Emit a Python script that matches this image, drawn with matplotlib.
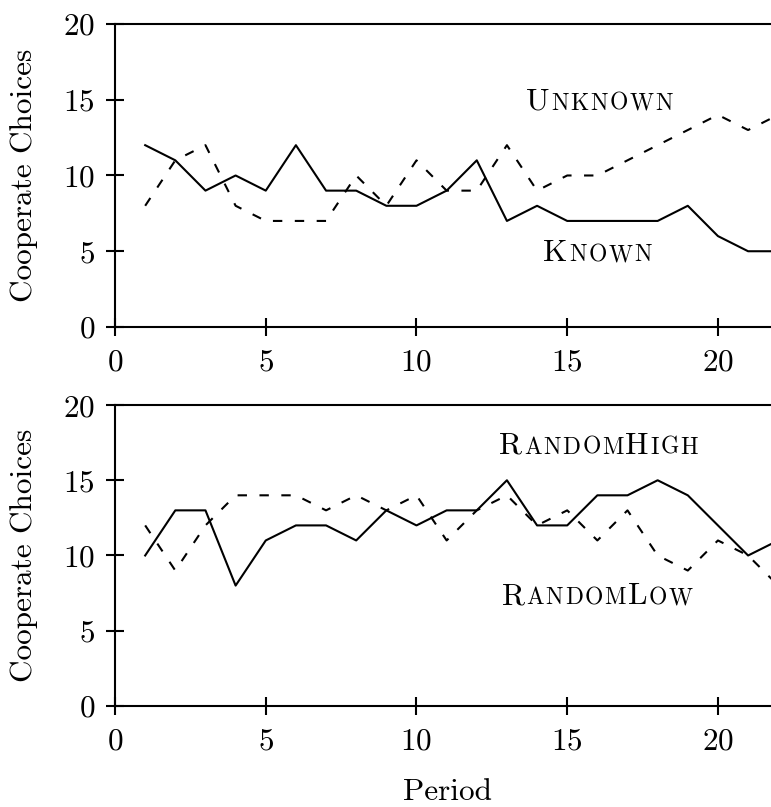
import matplotlib
matplotlib.use("Agg")
import matplotlib.pyplot as plt
from matplotlib.offsetbox import TextArea, HPacker, AnnotationBbox

plt.rcParams["font.family"] = "cmr10"
plt.rcParams["axes.formatter.use_mathtext"] = True
plt.rcParams["mathtext.fontset"] = "cm"

period = list(range(1, 23))

known = [12, 11, 9, 10, 9, 12, 9, 9, 8, 8, 9, 11, 7, 8, 7, 7, 7, 7, 8, 6, 5, 5]
unknown = [8, 11, 12, 8, 7, 7, 7, 10, 8, 11, 9, 9, 12, 9, 10, 10, 11, 12, 13, 14, 13, 14]
random_high = [10, 13, 13, 8, 11, 12, 12, 11, 13, 12, 13, 13, 15, 12, 12, 14, 14, 15, 14, 12, 10, 11]
random_low = [12, 9, 12, 14, 14, 14, 13, 14, 13, 14, 11, 13, 14, 12, 13, 11, 13, 10, 9, 11, 10, 8]

xticks = [0, 5, 10, 15, 20]
yticks = [0, 5, 10, 15, 20]

FS = 22.5
LW = 1.5


def smallcaps(ax, parts, xy):
    # parts: list of (text, is_capital); fake small caps letter by letter
    boxes = []
    for txt, big in parts:
        size = FS if big else FS * 0.75
        for ch in txt:
            boxes.append(TextArea(ch, textprops=dict(fontsize=size, family="cmr10")))
    pack = HPacker(children=boxes, align="baseline", pad=0, sep=1.2)
    ab = AnnotationBbox(pack, xy, xycoords="data", frameon=False,
                        box_alignment=(0.5, 0.5), pad=0)
    ax.add_artist(ab)


def style(ax):
    ax.set_xlim(0, 21.76)
    ax.set_ylim(0, 20)
    ax.set_xticks(xticks)
    ax.set_yticks(yticks)
    ax.spines["right"].set_visible(False)
    for s in ["left", "bottom", "top"]:
        ax.spines[s].set_linewidth(LW)
    ax.tick_params(direction="inout", length=13, width=LW, labelsize=FS)
    ax.tick_params(axis="x", pad=9)
    ax.tick_params(axis="y", pad=8)
    ax.set_ylabel("Cooperate Choices", fontsize=FS)
    ax.yaxis.set_label_coords(-0.118, 0.5)


fig = plt.figure(figsize=(7.71, 8.07), dpi=100)
ax1 = fig.add_axes([0.1492, 0.5948, 0.8508, 0.3755])
ax2 = fig.add_axes([0.1492, 0.1252, 0.8508, 0.3729])

ax1.plot(period, known, color="black", lw=LW)
ax1.plot(period, unknown, color="black", lw=LW, dashes=(4.5, 6.0))
style(ax1)
smallcaps(ax1, [("U", True), ("NKNOWN", False)], (16.07, 14.85))
smallcaps(ax1, [("K", True), ("NOWN", False)], (16.0, 4.85))

ax2.plot(period, random_high, color="black", lw=LW)
ax2.plot(period, random_low, color="black", lw=LW, dashes=(4.5, 6.0))
style(ax2)
smallcaps(ax2, [("R", True), ("ANDOM", False), ("H", True), ("IGH", False)], (16.05, 17.3))
smallcaps(ax2, [("R", True), ("ANDOM", False), ("L", True), ("OW", False)], (16.0, 7.3))

fig.text(447 / 771, 1 - 800 / 807, "Period", fontsize=FS, ha="center", va="baseline")

fig.savefig("out.png", dpi=100)
